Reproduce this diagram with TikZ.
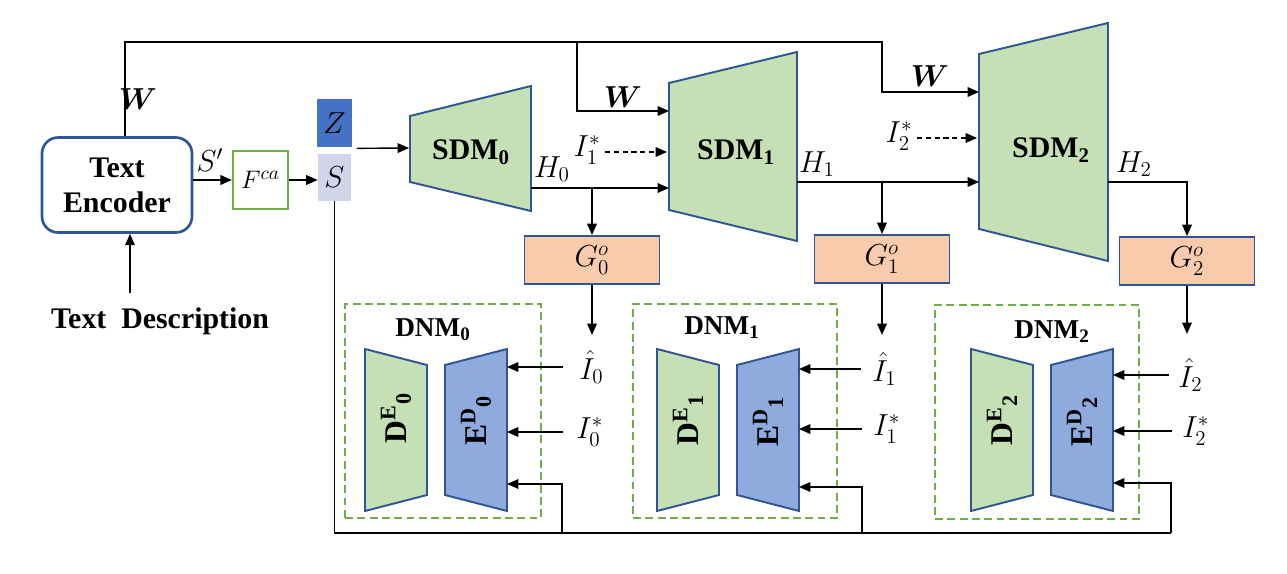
\documentclass[tikz,border=0pt]{standalone}
\usepackage{amsmath,amssymb}
\usepackage{xcolor}
\usepackage{fontspec}
\setmainfont{Liberation Serif}
\usetikzlibrary{arrows.meta}

\definecolor{verdesdm}{HTML}{C5E0B4}
\definecolor{azulborde}{HTML}{2F5597}
\definecolor{azuled}{HTML}{8FAADC}
\definecolor{salmon}{HTML}{F8CBAD}
\definecolor{verdeborde}{HTML}{70AD47}
\definecolor{azulz}{HTML}{4472C4}
\definecolor{lilas}{HTML}{D0D5EA}

\tikzset{
  flecha/.style={-{Triangle[length=6.5pt,width=5.5pt]}, line width=0.8pt},
  linea/.style={line width=0.8pt},
  trapsdm/.style={fill=verdesdm, draw=azulborde, line width=1.1pt},
  traped/.style={fill=azuled, draw=azulborde, line width=1.1pt},
  cajag/.style={fill=salmon, draw=azulborde, line width=1.1pt, minimum width=2.7cm, minimum height=0.96cm, etq},
  cajadnm/.style={draw=verdeborde, line width=1.2pt, dash pattern=on 4.5pt off 2.5pt, minimum height=4.28cm},
  etq/.style={font=\fontsize{16.5}{19}\selectfont},
  entrada/.style={etq, anchor=west, inner xsep=0.32cm},
  titulo/.style={font=\fontsize{17}{20}\selectfont\bfseries},
  tdnm/.style={font=\fontsize{15.5}{18}\selectfont\bfseries},
  tde/.style={font=\fontsize{18}{20}\selectfont\bfseries, rotate=90},
}

\begin{document}
\begin{tikzpicture}[x=0.02cm, y=-0.02cm]
    \useasboundingbox (0,0) rectangle (1287,574);

    % codificador de texto
    \node[draw=azulborde, fill=white, line width=1.5pt, rounded corners=0.32cm, minimum width=3cm, minimum height=1.9cm, align=center, titulo] (enc) at (117,185) {Text\\Encoder};
    \node[titulo] (desc) at (160,321) {Text~~Description};
    \coordinate (dt) at (130,293);
    \draw[flecha] (dt) -- (dt |- enc.south);

    % F^ca, Z y S
    \node[draw=verdeborde, line width=1.3pt, minimum width=1.1cm, minimum height=1.16cm, font=\fontsize{15}{17}\selectfont] (fca) at (260.5,180) {$F^{ca}$};
    \node[font=\fontsize{18}{20}\selectfont] (sp) at (210,160) {$S'$};
    \draw[flecha] (enc.east |- fca) -- (fca.west);
    \node[fill=azulz, minimum width=0.66cm, minimum height=0.96cm, font=\fontsize{18}{20}\selectfont] (z) at (334.5,123) {$Z$};
    \node[fill=lilas, minimum width=0.66cm, minimum height=0.94cm, font=\fontsize{18}{20}\selectfont] (s) at (334.5,177.5) {$S$};
    \draw[flecha] (fca.east) -- (fca.east -| s.west);

    % SDM
    \draw[trapsdm] (410,116) -- (531,86) -- (531,211) -- (410,182) -- cycle;
    \draw[trapsdm] (669,83) -- (797,52) -- (797,241) -- (669,210) -- cycle;
    \draw[trapsdm] (979,54) -- (1108,23) -- (1108,261) -- (979,229) -- cycle;
    \node[titulo] (sdm0) at (471,152) {SDM\textsubscript{0}};
    \node[titulo] (sdm1) at (736,152) {SDM\textsubscript{1}};
    \node[titulo] (sdm2) at (1051,150) {SDM\textsubscript{2}};

    \coordinate (s0a) at (409,148);
    \coordinate (s0o) at (531,188);
    \coordinate (s1h) at (669,188);
    \coordinate (s1w) at (669,111);
    \coordinate (s1i) at (667,152);
    \coordinate (s1o) at (797,182);
    \coordinate (s2h) at (979,182);
    \coordinate (s2w) at (979,92);
    \coordinate (s2i) at (977,138);
    \coordinate (s2o) at (1108,182);

    \draw[flecha] (z.south east) ++(5,1) -- (s0a);

    % W
    \coordinate (wa) at (125,42);
    \coordinate (wb) at (577,42);
    \coordinate (wc) at (882,42);
    \draw[flecha] (enc.north -| wa) |- (wc) |- (s2w);
    \draw[flecha] (wb) |- (s1w);
    \node[etq] (w0) at (138,99) {$\boldsymbol{W}$};
    \node[etq] (w1) at (623,97) {$\boldsymbol{W}$};
    \node[etq] (w2) at (930,76) {$\boldsymbol{W}$};

    % I* hacia SDM
    \node[etq, anchor=east, inner xsep=0.08cm] (i1s) at (605,150) {$I_1^*$};
    \node[etq, anchor=east, inner xsep=0.08cm] (i2s) at (917,136) {$I_2^*$};
    \draw[flecha, dash pattern=on 3pt off 2pt] (i1s.east |- s1i) -- (s1i);
    \draw[flecha, dash pattern=on 3pt off 2pt] (i2s.east |- s2i) -- (s2i);

    % G
    \node[cajag] (g0) at (592,260) {$G_0^o$};
    \node[cajag] (g1) at (882,259) {$G_1^o$};
    \node[cajag] (g2) at (1187,261) {$G_2^o$};

    % H
    \draw[flecha] (s0o) -- (s1h);
    \draw[flecha] (s1o) -- (s2h);
    \draw[flecha] (s2o) -| (g2.north);
    \draw[flecha] (g0.north |- s0o) -- (g0.north);
    \draw[flecha] (g1.north |- s1o) -- (g1.north);
    \node[etq] (h0) at (552,169) {$H_0$};
    \node[etq] (h1) at (817,164) {$H_1$};
    \node[etq] (h2) at (1134,164) {$H_2$};

    \draw[flecha] (g0.south) -- ++(0,50);
    \draw[flecha] (g1.south) -- ++(0,51);
    \draw[flecha] (g2.south) -- ++(0,48);

    % DNM
    \node[cajadnm, minimum width=3.92cm] (dnm0) at (443,411) {};
    \node[cajadnm, minimum width=4.08cm] (dnm1) at (735,411) {};
    \node[cajadnm, minimum width=4.08cm] (dnm2) at (1037,412) {};
    \node[tdnm] (t0) at (433,330) {DNM\textsubscript{0}};
    \node[tdnm] (t1) at (722,328) {DNM\textsubscript{1}};
    \node[tdnm] (t2) at (1052,332) {DNM\textsubscript{2}};

    \draw[trapsdm] (365,349) -- (427,365) -- (427,495) -- (365,511) -- cycle;
    \draw[traped] (445,365) -- (507,349) -- (507,511) -- (445,495) -- cycle;
    \draw[trapsdm] (657,349) -- (719,365) -- (719,495) -- (657,511) -- cycle;
    \draw[traped] (737,365) -- (799,349) -- (799,511) -- (737,495) -- cycle;
    \draw[trapsdm] (971,349) -- (1033,365) -- (1033,495) -- (971,511) -- cycle;
    \draw[traped] (1051,365) -- (1113,349) -- (1113,511) -- (1051,495) -- cycle;

    \node[tde] (de0) at (396,418) {D\textsuperscript{E}\textsubscript{0}};
    \node[tde] (ed0) at (476,421) {E\textsuperscript{D}\textsubscript{0}};
    \node[tde] (de1) at (688,420) {D\textsuperscript{E}\textsubscript{1}};
    \node[tde] (ed1) at (768,422) {E\textsuperscript{D}\textsubscript{1}};
    \node[tde] (de2) at (1002,420) {D\textsuperscript{E}\textsubscript{2}};
    \node[tde] (ed2) at (1082,422) {E\textsuperscript{D}\textsubscript{2}};

    \coordinate (e0) at (507,484);
    \coordinate (e1) at (799,487);
    \coordinate (e2) at (1113,483);

    % entradas de los DNM
    \node[entrada] (ih0) at (563,367) {$\hat{I}_0$};
    \node[entrada, inner xsep=0.26cm] (is0) at (563,432) {$I_0^*$};
    \node[entrada, inner xsep=0.22cm] (ih1) at (861,369) {$\hat{I}_1$};
    \node[entrada, inner xsep=0.22cm] (is1) at (862,429) {$I_1^*$};
    \node[entrada, inner xsep=0.18cm] (ih2) at (1169,375) {$\hat{I}_2$};
    \node[entrada, inner xsep=0.2cm] (is2) at (1172,431) {$I_2^*$};
    \draw[flecha] (ih0.west) -- (ih0.west -| e0);
    \draw[flecha] (is0.west) -- (is0.west -| e0);
    \draw[flecha] (ih1.west) -- (ih1.west -| e1);
    \draw[flecha] (is1.west) -- (is1.west -| e1);
    \draw[flecha] (ih2.west) -- (ih2.west -| e2);
    \draw[flecha] (is2.west) -- (is2.west -| e2);

    % retorno de S
    \coordinate (fb0) at (562,533);
    \coordinate (fb1) at (862,533);
    \coordinate (fb2) at (1171,533);
    \draw[linea] (s.south) |- (fb2);
    \draw[flecha] (fb0) |- (e0);
    \draw[flecha] (fb1) |- (e1);
    \draw[flecha] (fb2) |- (e2);

\end{tikzpicture}
\end{document}
